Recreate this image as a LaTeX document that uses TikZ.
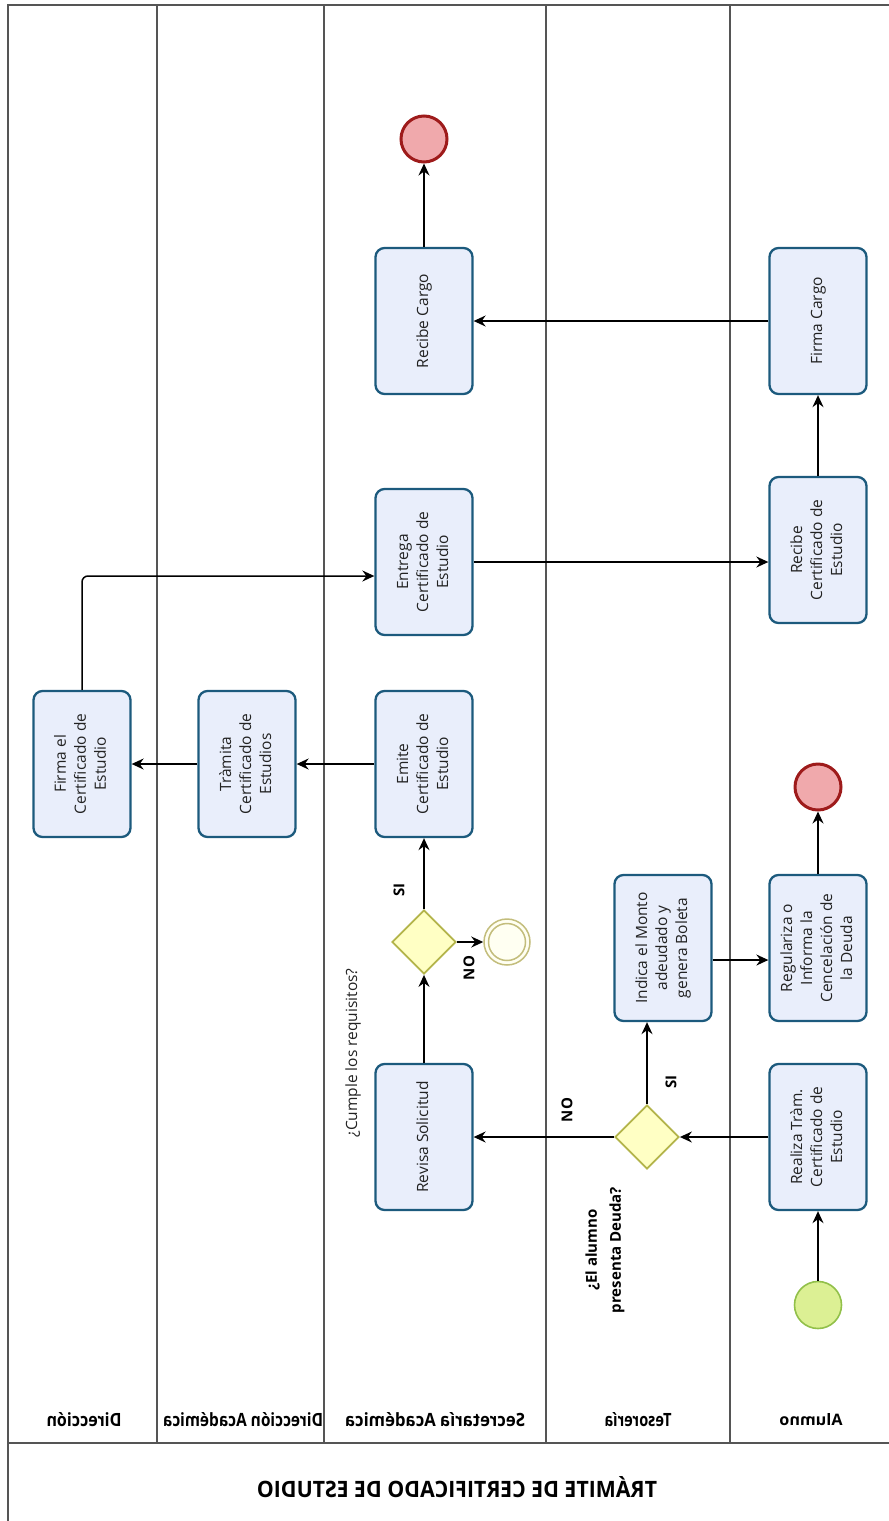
\documentclass[tikz,border=0pt]{standalone}
\usepackage{fontspec}
\setmainfont{Open Sans}
\usetikzlibrary{arrows.meta,shapes.geometric}
\definecolor{taskfill}{HTML}{E9EEFB}
\definecolor{taskline}{HTML}{1C5A7D}
\definecolor{gwfill}{HTML}{FFFFC4}
\definecolor{gwline}{HTML}{B3B44A}
\definecolor{stfill}{HTML}{DCF094}
\definecolor{stline}{HTML}{92C04A}
\definecolor{endfill}{HTML}{F0A9AC}
\definecolor{endline}{HTML}{9E1B1B}
\definecolor{ntfill}{HTML}{FFFFF2}
\definecolor{ntline}{HTML}{C3BD7C}
\definecolor{lanec}{HTML}{555555}
\definecolor{txtc}{HTML}{222222}
\newcommand\rottext[1]{\rotatebox{90}{\begin{tabular}{@{}c@{}}#1\end{tabular}}}
\newcommand\mirtext[3]{\reflectbox{\resizebox{#1}{#2}{\bfseries #3}}}
\begin{document}
\begin{tikzpicture}[x=1pt,y=-1pt,
  task/.style={draw=taskline,fill=taskfill,line width=2.3pt,rounded corners=9pt,
    minimum width=97pt,minimum height=146pt,inner sep=0pt,text=txtc,
    font=\fontsize{15.5}{20}\selectfont},
  gw/.style={diamond,aspect=1,draw=gwline,fill=gwfill,line width=1.8pt,
    minimum width=64pt,minimum height=64pt,inner sep=0pt},
  startev/.style={circle,draw=stline,fill=stfill,line width=1.6pt,minimum size=47pt,inner sep=0pt},
  endev/.style={circle,draw=endline,fill=endfill,line width=3pt,minimum size=46pt,inner sep=0pt},
  noev/.style={circle,draw=ntline,fill=ntfill,line width=1.5pt,minimum size=46pt,inner sep=0pt},
  flow/.style={draw=black,line width=1.5pt,-{Stealth[length=12pt,width=11pt,inset=4pt]}},
  lane/.style={draw=lanec,line width=1.3pt},
  lbl/.style={inner sep=0pt,text=black,font=\bfseries\fontsize{15}{17}\selectfont},
  lanelbl/.style={inner sep=0pt,text=black}
]
\useasboundingbox (0,0) rectangle (889,1521);
% pool and lanes
\draw[lane] (8,1530) -- (8,5) -- (895,5);
\draw[lane] (8,1443) -- (895,1443);
\foreach \xx in {157,324,546,730} \draw[lane] (\xx,5) -- (\xx,1443);
% lane labels (mirrored)
\node[lanelbl] (l1) at (84,1420) {\mirtext{75pt}{14pt}{Dirección}};
\node[lanelbl] (l2) at (243,1420) {\mirtext{160pt}{14pt}{Dirección Académica}};
\node[lanelbl] (l3) at (435,1420) {\mirtext{180pt}{14pt}{Secretaría Académica}};
\node[lanelbl] (l4) at (638,1420) {\mirtext{67pt}{14pt}{Tesorería}};
\node[lanelbl] (l5) at (811,1420) {\mirtext{63pt}{12pt}{Alumno}};
\node[lanelbl] (title) at (457,1487) {\mirtext{400pt}{21pt}{TRÁMITE DE CERTIFICADO DE ESTUDIO}};
% nodes
\node[startev] (start) at (818,1305) {};
\node[task] (realiza) at (818,1137) {\rottext{Realiza Tràm.\\Certificado de\\Estudio}};
\node[gw] (g1) at (647,1137) {};
\node[task] (indica) at (663,948) {\rottext{Indica el Monto\\adeudado y\\genera Boleta}};
\node[task] (regul) at (818,948) {\rottext{Regulariza o\\Informa la\\Cencelación de\\la Deuda}};
\node[endev] (endA) at (818,787) {};
\node[task] (revisa) at (424,1137) {\rottext{Revisa Solicitud}};
\node[gw] (g2) at (424,942) {};
\node[noev] (endno) at (507,942) {};
\draw[ntline,line width=1.5pt] (endno.center) circle (18.5);
\node[task] (emite) at (424,764) {\rottext{Emite\\Certificado de\\Estudio}};
\node[task] (tramita) at (247,764) {\rottext{Tràmita\\Certificado de\\Estudios}};
\node[task] (firmael) at (82,764) {\rottext{Firma el\\Certificado de\\Estudio}};
\node[task] (entrega) at (424,562) {\rottext{Entrega\\Certificado de\\Estudio}};
\node[task] (recibec) at (818,550) {\rottext{Recibe\\Certificado de\\Estudio}};
\node[task] (firmacargo) at (818,321) {\rottext{Firma Cargo}};
\node[task] (recibecargo) at (424,321) {\rottext{Recibe Cargo}};
\node[endev] (endtop) at (424,139) {};
% labels
\node[rotate=90,align=center,inner sep=0pt,text=black,font=\bfseries\fontsize{15}{24}\selectfont] (q1) at (605,1250) {¿El alumno\\presenta Deuda?};
\node[rotate=90,inner sep=0pt,text=txtc,font=\fontsize{15.5}{18}\selectfont] (q2) at (353,1053) {¿Cumple los requisitos?};
\node[lbl,rotate=90] (si1) at (671,1082) {SI};
\node[lbl,rotate=90] (no1) at (567,1110) {NO};
\node[lbl,rotate=90] (si2) at (399,890) {SI};
\node[lbl,rotate=90] (no2) at (469,968) {NO};
% flows
\draw[flow] (start) -- (realiza);
\draw[flow] (realiza) -- (g1);
\draw[flow] (g1) -- (g1 |- indica.south);
\draw[flow] (g1) -- (revisa);
\draw[flow] ([yshift=-12pt]indica.east) -- ([yshift=-12pt]regul.west);
\draw[flow] (regul) -- (endA);
\draw[flow] (revisa) -- (g2);
\draw[flow] (g2) -- (endno);
\draw[flow] (g2) -- (emite);
\draw[flow] (emite) -- (tramita);
\draw[flow] (tramita) -- (firmael);
\draw[flow,rounded corners=6pt] (firmael.north) |- ([yshift=-14pt]entrega.west);
\draw[flow] (entrega.east) -- (entrega.east -| recibec.west);
\draw[flow] (recibec) -- (firmacargo);
\draw[flow] (firmacargo) -- (recibecargo);
\draw[flow] (recibecargo) -- (endtop);
\end{tikzpicture}
\end{document}
